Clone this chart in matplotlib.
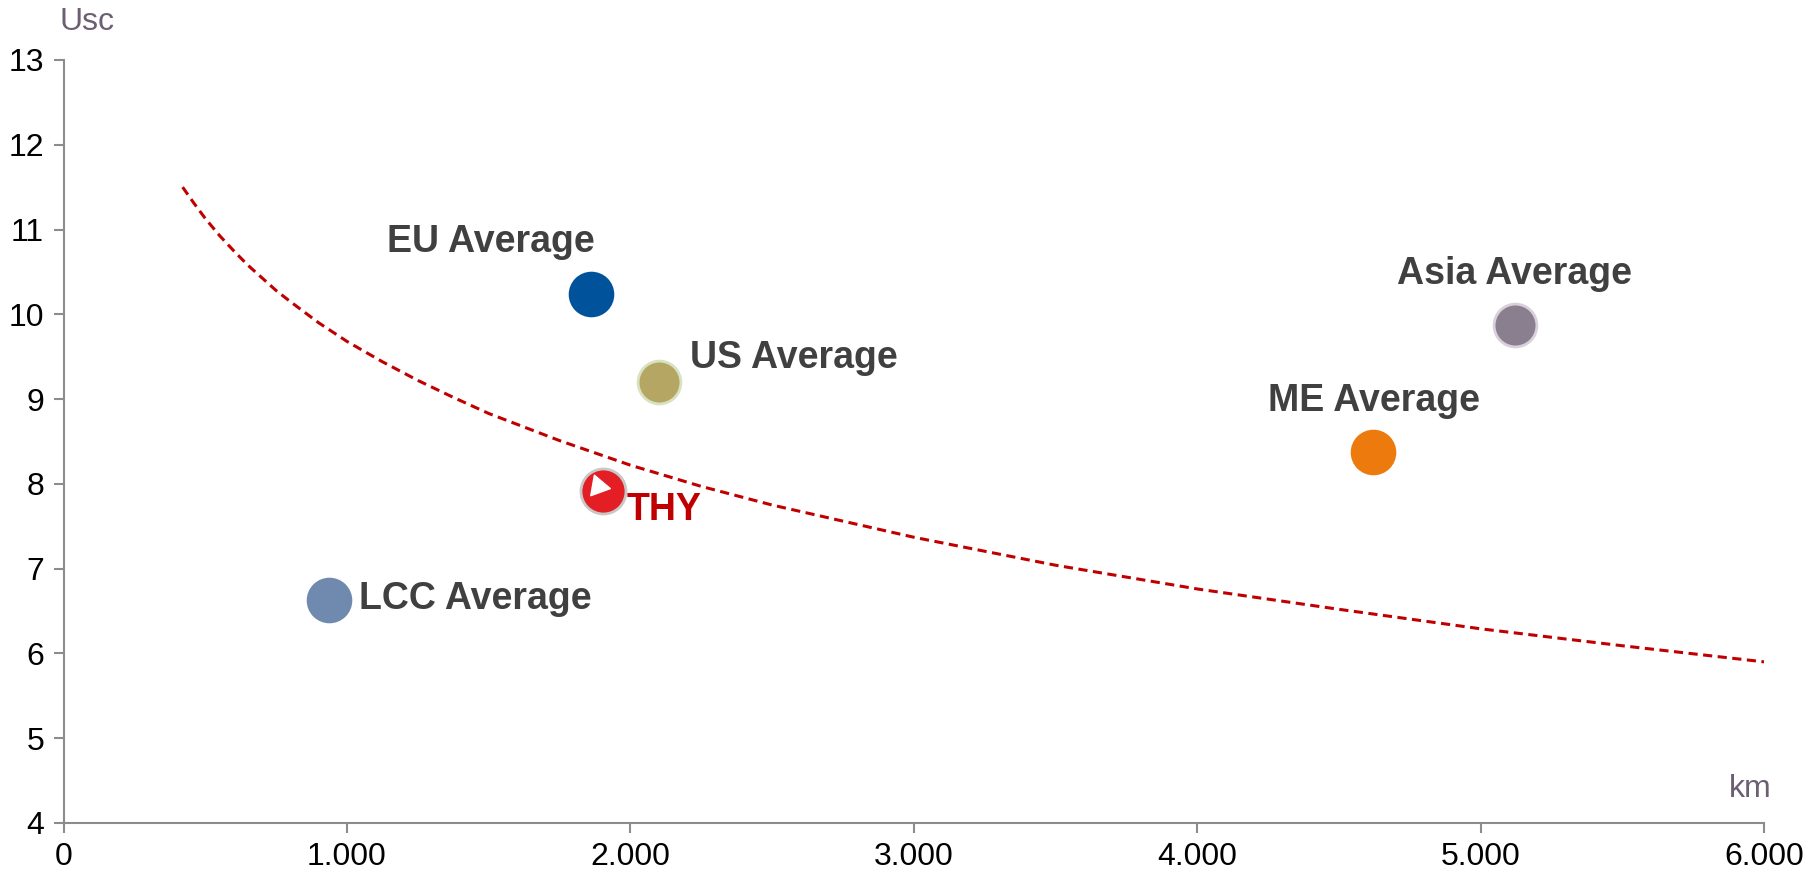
import numpy as np
import matplotlib.pyplot as plt
from matplotlib.ticker import FuncFormatter

plt.rcParams['font.family'] = ['Liberation Sans', 'DejaVu Sans']

# airline group averages: stage length (km) vs unit cost (Usc)
names = ["EU Average", "US Average", "LCC Average", "ME Average", "Asia Average"]
km = [1860, 2100, 935, 4620, 5120]
usc = [10.24, 9.20, 6.63, 8.37, 9.87]
colors = ["#00539b", "#b5a663", "#7089ae", "#ed7a0c", "#8a7f8e"]
edges = ["#00539b", "#d6e2c0", "#7089ae", "#ed7a0c", "#d8d0da"]
label_km = [1507, 2578, 1454, 4623, 5120]
label_usc = [10.85, 9.49, 6.64, 8.98, 10.48]

thy_km = 1905
thy_usc = 7.92

# trend line
trend_km = [420, 460, 500, 550, 600, 650, 700, 750, 800, 900, 1000, 1125, 1250,
            1375, 1500, 1750, 2000, 2250, 2500, 3000, 3500, 4000, 4500, 5000,
            5500, 6000]
trend_usc = [11.50, 11.31, 11.13, 10.93, 10.75, 10.58, 10.43, 10.28, 10.15,
             9.90, 9.68, 9.44, 9.22, 9.02, 8.83, 8.51, 8.22, 7.97, 7.75, 7.37,
             7.04, 6.76, 6.52, 6.29, 6.09, 5.90]

fig = plt.figure(figsize=(18.06, 8.69), dpi=100)
ax = fig.add_axes([0.0352, 0.053, 0.9416, 0.878])

ax.plot(trend_km, trend_usc, color="#c00000", lw=2.2, dashes=(3, 1.8), zorder=2)

for i in range(len(names)):
    ax.scatter(km[i], usc[i], s=950, color=colors[i], edgecolors=edges[i],
               linewidths=2, zorder=3)
    ax.text(label_km[i], label_usc[i], names[i], fontsize=27, fontweight="bold",
            color="#404040", ha="center", va="center", zorder=4)

# THY logo-ish marker
ax.scatter(thy_km, thy_usc, s=1050, color="#e31e24", edgecolors="#c8c8c8",
           linewidths=2, zorder=3)
ax.scatter(thy_km - 20, thy_usc + 0.05, s=300, marker=(3, 0, 20), color="white", zorder=4)
ax.text(2118, 7.69, "THY", fontsize=27, fontweight="bold", color="#c00000",
        ha="center", va="center", zorder=4)

ax.set_xlim(0, 6000)
ax.set_ylim(4, 13)
ax.set_xticks(np.arange(0, 6001, 1000))
ax.set_yticks(np.arange(4, 14, 1))
ax.xaxis.set_major_formatter(FuncFormatter(lambda v, p: f"{int(v):,}".replace(",", ".")))

for s in ["top", "right"]:
    ax.spines[s].set_visible(False)
for s in ["left", "bottom"]:
    ax.spines[s].set_color("#8c8c8c")
    ax.spines[s].set_linewidth(1.5)
ax.tick_params(axis="both", colors="#8c8c8c", width=1.5, length=7, labelsize=23,
               labelcolor="black", direction="out")
ax.tick_params(axis="x", pad=7)
ax.tick_params(axis="y", pad=7)

fig.text(0.033, 0.975, "Usc", fontsize=23, color="#6b5f73", ha="left", va="center")
fig.text(0.969, 0.092, "km", fontsize=23, color="#6b5f73", ha="center", va="center")

fig.savefig("out.png", dpi=100)
